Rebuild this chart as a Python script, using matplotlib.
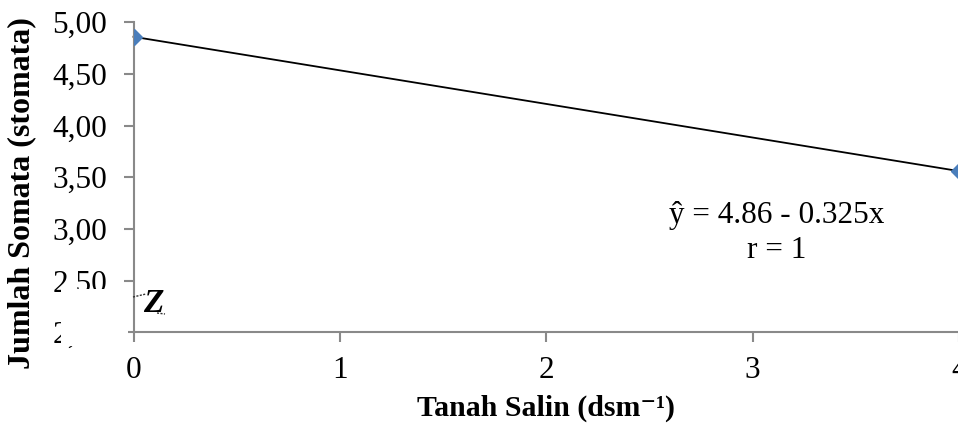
import matplotlib
matplotlib.use("Agg")
import matplotlib.pyplot as plt
from matplotlib.patches import Rectangle
from matplotlib.lines import Line2D

# Data
x_vals = [0, 4]
y_vals = [4.86, 3.56]
x_ticks = [0, 1, 2, 3, 4]
y_ticks = [2.0, 2.5, 3.0, 3.5, 4.0, 4.5, 5.0]
y_tick_labels = ["2,00", "2,50", "3,00", "3,50", "4,00", "4,50", "5,00"]
equation_text = "ŷ = 4.86 - 0.325x"
r_text = "r = 1"
x_label = "Tanah Salin (dsm\u207b\u00b9)"
y_label = "Jumlah Somata (stomata)"

plt.rcParams['font.family'] = ['Liberation Serif', 'DejaVu Serif']

W, H = 958, 429
fig = plt.figure(figsize=(W / 100, H / 100), dpi=100)

left = 133.5 / W
bottom = 1 - 332.3 / H
width = (959.0 - 133.5) / W
height = (332.3 - 22.3) / H
ax = fig.add_axes([left, bottom, width, height])

gray = "#898989"
ax.plot(x_vals, y_vals, color="black", lw=1.3, zorder=2, clip_on=False)
ax.plot(x_vals, y_vals, linestyle="none", marker="D", markersize=8.5,
        color="#4A7EBB", markeredgecolor="#4A7EBB", zorder=3, clip_on=True)

ax.set_xlim(0, 4)
ax.set_ylim(2.0, 5.0)
ax.set_xticks(x_ticks)
ax.set_xticklabels([str(t) for t in x_ticks])
ax.set_yticks(y_ticks)
ax.set_yticklabels(y_tick_labels)

for s in ["top", "right"]:
    ax.spines[s].set_visible(False)
for s in ["left", "bottom"]:
    ax.spines[s].set_color(gray)
    ax.spines[s].set_linewidth(1.5)

ax.tick_params(axis="both", which="major", direction="out", length=7,
               width=1.5, color=gray, labelsize=22.5, labelcolor="black")
ax.tick_params(axis="x", pad=10)
ax.tick_params(axis="y", pad=12)

ax.set_xlabel(x_label, fontsize=21.5, fontweight="bold")
ax.xaxis.set_label_coords(0.5, -0.2)
ax.set_ylabel(y_label, fontsize=23, fontweight="bold")
ax.yaxis.set_label_coords(-0.118, 0.449)

ax.text(3.118, 3.135, equation_text, fontsize=22.5, ha="center", va="center")
ax.text(3.118, 2.796, r_text, fontsize=22.5, ha="center", va="center")

# white box partially hiding the lowest tick labels (axis break area)
fig.add_artist(Rectangle((61 / W, 1 - 346 / H), (128 - 61) / W, (346 - 289) / H,
                         transform=fig.transFigure, facecolor="white",
                         edgecolor="none", zorder=10))

# axis break symbol
fig.text(153 / W, 1 - 303 / H, "Z", fontsize=24, fontstyle="italic",
         fontweight="bold", ha="center", va="center", zorder=11)
fig.add_artist(Line2D([133 / W, 146 / W], [1 - 297 / H, 1 - 294 / H],
                      transform=fig.transFigure, color="#333333", lw=1,
                      linestyle=(0, (1.5, 1)), zorder=11))
fig.add_artist(Line2D([157 / W, 165 / W], [1 - 313 / H, 1 - 314 / H],
                      transform=fig.transFigure, color="#333333", lw=1,
                      linestyle=(0, (1.5, 1)), zorder=11))

fig.savefig("out.png", dpi=100)
